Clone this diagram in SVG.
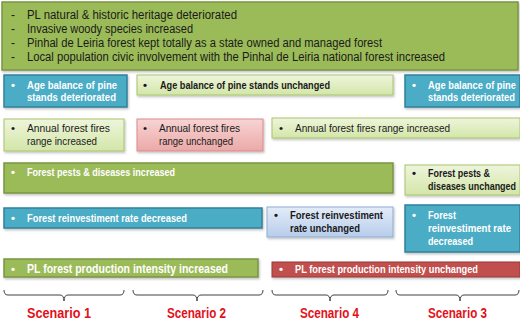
<svg xmlns="http://www.w3.org/2000/svg" width="520" height="326" viewBox="0 0 520 326">
<defs>
<linearGradient id="lg" x1="0" y1="0" x2="0" y2="1"><stop offset="0" stop-color="#EEF5DC"/><stop offset="1" stop-color="#D3E6A8"/></linearGradient>
<linearGradient id="pk" x1="0" y1="0" x2="0" y2="1"><stop offset="0" stop-color="#F7D4D3"/><stop offset="1" stop-color="#EBA9A8"/></linearGradient>
<linearGradient id="lb" x1="0" y1="0" x2="0" y2="1"><stop offset="0" stop-color="#E3ECF8"/><stop offset="1" stop-color="#B8CDEB"/></linearGradient>
<filter id="sh" x="-5%" y="-20%" width="110%" height="150%"><feDropShadow dx="1" dy="1.5" stdDeviation="1" flood-color="#000" flood-opacity="0.25"/></filter>
</defs>
<style>
text{font-family:"Liberation Sans",Arial,sans-serif;font-size:11.5px}
.g{fill:#9BBB59;stroke:#7A9543;stroke-width:1.5;filter:url(#sh)}
.lg{fill:url(#lg);stroke:#A9C46E;stroke-width:1;filter:url(#sh)}
.b{fill:#4BACC6;stroke:#31819A;stroke-width:1.5;filter:url(#sh)}
.lb{fill:url(#lb);stroke:#8DADD6;stroke-width:1;filter:url(#sh)}
.pk{fill:url(#pk);stroke:#D98B89;stroke-width:1;filter:url(#sh)}
.r{fill:#C0504D;stroke:#953B39;stroke-width:1;filter:url(#sh)}
.w{fill:#fff;font-weight:bold}
.d{fill:#1a1a1a}
.t{font-size:12px}
.db{fill:#1a1a1a;font-weight:bold}
.sc{fill:#E3101B;font-weight:bold;font-size:14px}
.br{fill:none;stroke:#404040;stroke-width:1}
</style>
<g id="top">
<rect class="g" x="2" y="2" width="516" height="68"/>
<text class="d t" x="11" y="19">-</text><text class="d t" x="27" y="19" textLength="210" lengthAdjust="spacingAndGlyphs">PL natural &amp; historic heritage deteriorated</text>
<text class="d t" x="11" y="33">-</text><text class="d t" x="27" y="33" textLength="166" lengthAdjust="spacingAndGlyphs">Invasive woody species increased</text>
<text class="d t" x="11" y="47">-</text><text class="d t" x="27" y="47" textLength="355" lengthAdjust="spacingAndGlyphs">Pinhal de Leiria forest kept totally as a state owned and managed forest</text>
<text class="d t" x="11" y="61">-</text><text class="d t" x="27" y="61" textLength="418" lengthAdjust="spacingAndGlyphs">Local population civic involvement with the Pinhal de Leiria national forest increased</text>
</g>
<g id="age1">
<rect class="b" x="4" y="75" width="123" height="32"/>
<text class="w" x="11" y="89">•</text>
<text class="w" x="27" y="89" textLength="90" lengthAdjust="spacingAndGlyphs">Age balance of pine</text>
<text class="w" x="27" y="101" textLength="89" lengthAdjust="spacingAndGlyphs">stands deteriorated</text>
</g>
<g id="age2">
<rect class="lg" x="137" y="75" width="256" height="20"/>
<text class="db" x="143" y="89">•</text>
<text class="db" x="160" y="89" textLength="170" lengthAdjust="spacingAndGlyphs">Age balance of pine stands unchanged</text>
</g>
<g id="age3">
<rect class="b" x="405" y="75" width="115" height="32"/>
<text class="w" x="412" y="89">•</text>
<text class="w" x="428" y="89" textLength="88" lengthAdjust="spacingAndGlyphs">Age balance of pine</text>
<text class="w" x="428" y="101" textLength="87" lengthAdjust="spacingAndGlyphs">stands deteriorated</text>
</g>
<g id="fire1">
<rect class="lg" x="4" y="119" width="120" height="32"/>
<text class="d" x="11" y="132">•</text>
<text class="d" x="27" y="132" textLength="83" lengthAdjust="spacingAndGlyphs">Annual  forest fires</text>
<text class="d" x="27" y="145" textLength="70" lengthAdjust="spacingAndGlyphs">range increased</text>
</g>
<g id="fire2">
<rect class="pk" x="137" y="119" width="126" height="32"/>
<text class="d" x="143" y="132">•</text>
<text class="d" x="159" y="132" textLength="81" lengthAdjust="spacingAndGlyphs">Annual forest fires</text>
<text class="d" x="159" y="145" textLength="74" lengthAdjust="spacingAndGlyphs">range unchanged</text>
</g>
<g id="fire3">
<rect class="lg" x="272" y="118" width="248" height="20"/>
<text class="d" x="279" y="132">•</text>
<text class="d" x="295" y="132" textLength="155" lengthAdjust="spacingAndGlyphs">Annual  forest fires range increased</text>
</g>
<g id="pests1">
<rect class="g" x="4" y="163" width="389" height="30"/>
<text class="w" x="11" y="176">•</text>
<text class="w" x="27" y="176" textLength="148" lengthAdjust="spacingAndGlyphs">Forest pests &amp; diseases increased</text>
</g>
<g id="pests2">
<rect class="lg" x="405" y="165" width="115" height="30"/>
<text class="db" x="412" y="177">•</text>
<text class="db" x="428" y="177" textLength="62" lengthAdjust="spacingAndGlyphs">Forest pests &amp;</text>
<text class="db" x="428" y="190" textLength="88" lengthAdjust="spacingAndGlyphs">diseases unchanged</text>
</g>
<g id="reinv1">
<rect class="b" x="4" y="208" width="258" height="20"/>
<text class="w" x="11" y="222">•</text>
<text class="w" x="27" y="222" textLength="160" lengthAdjust="spacingAndGlyphs">Forest reinvestiment rate decreased</text>
</g>
<g id="reinv2">
<rect class="lb" x="267" y="207" width="126" height="30"/>
<text class="db" x="274" y="219">•</text>
<text class="db" x="290" y="219" textLength="93" lengthAdjust="spacingAndGlyphs">Forest reinvestiment</text>
<text class="db" x="290" y="232" textLength="70" lengthAdjust="spacingAndGlyphs">rate unchanged</text>
</g>
<g id="reinv3">
<rect class="b" x="405" y="205" width="115" height="47"/>
<text class="w" x="412" y="219">•</text>
<text class="w" x="428" y="219" textLength="28" lengthAdjust="spacingAndGlyphs">Forest</text>
<text class="w" x="428" y="232" textLength="83" lengthAdjust="spacingAndGlyphs">reinvestiment rate</text>
<text class="w" x="428" y="245" textLength="45" lengthAdjust="spacingAndGlyphs">decreased</text>
</g>
<g id="prod1">
<rect class="g" x="4" y="259" width="254" height="18"/>
<text class="w" x="11" y="273">•</text>
<text class="w" x="27" y="273" textLength="201" lengthAdjust="spacingAndGlyphs" style="font-size:13px">PL forest production intensity increased</text>
</g>
<g id="prod2">
<rect class="r" x="272" y="262" width="248" height="15"/>
<text class="w" x="279" y="273">•</text>
<text class="w" x="295" y="273" textLength="183" lengthAdjust="spacingAndGlyphs">PL forest production intensity unchanged</text>
</g>
<g id="connectors">
<path class="br" d="M4,290 Q4,295 8,295 L60,295 Q64,295 64,301 Q64,295 68,295 L120,295 Q124,295 124,290"/>
<path class="br" d="M133,290 Q133,295 137,295 L193,295 Q197,295 197,301 Q197,295 201,295 L259,295 Q263,295 263,290"/>
<path class="br" d="M272,290 Q272,295 276,295 L326,295 Q330,295 330,301 Q330,295 334,295 L384,295 Q388,295 388,290"/>
<path class="br" d="M396,290 Q396,295 400,295 L456,295 Q460,295 460,301 Q460,295 464,295 L515,295 Q519,295 519,290"/>
</g>
<g id="labels">
<text class="sc" x="27" y="318" textLength="64" lengthAdjust="spacingAndGlyphs">Scenario 1</text>
<text class="sc" x="167" y="318" textLength="59" lengthAdjust="spacingAndGlyphs">Scenario 2</text>
<text class="sc" x="300" y="318" textLength="59" lengthAdjust="spacingAndGlyphs">Scenario 4</text>
<text class="sc" x="428" y="318" textLength="59" lengthAdjust="spacingAndGlyphs">Scenario 3</text>
</g>
</svg>
